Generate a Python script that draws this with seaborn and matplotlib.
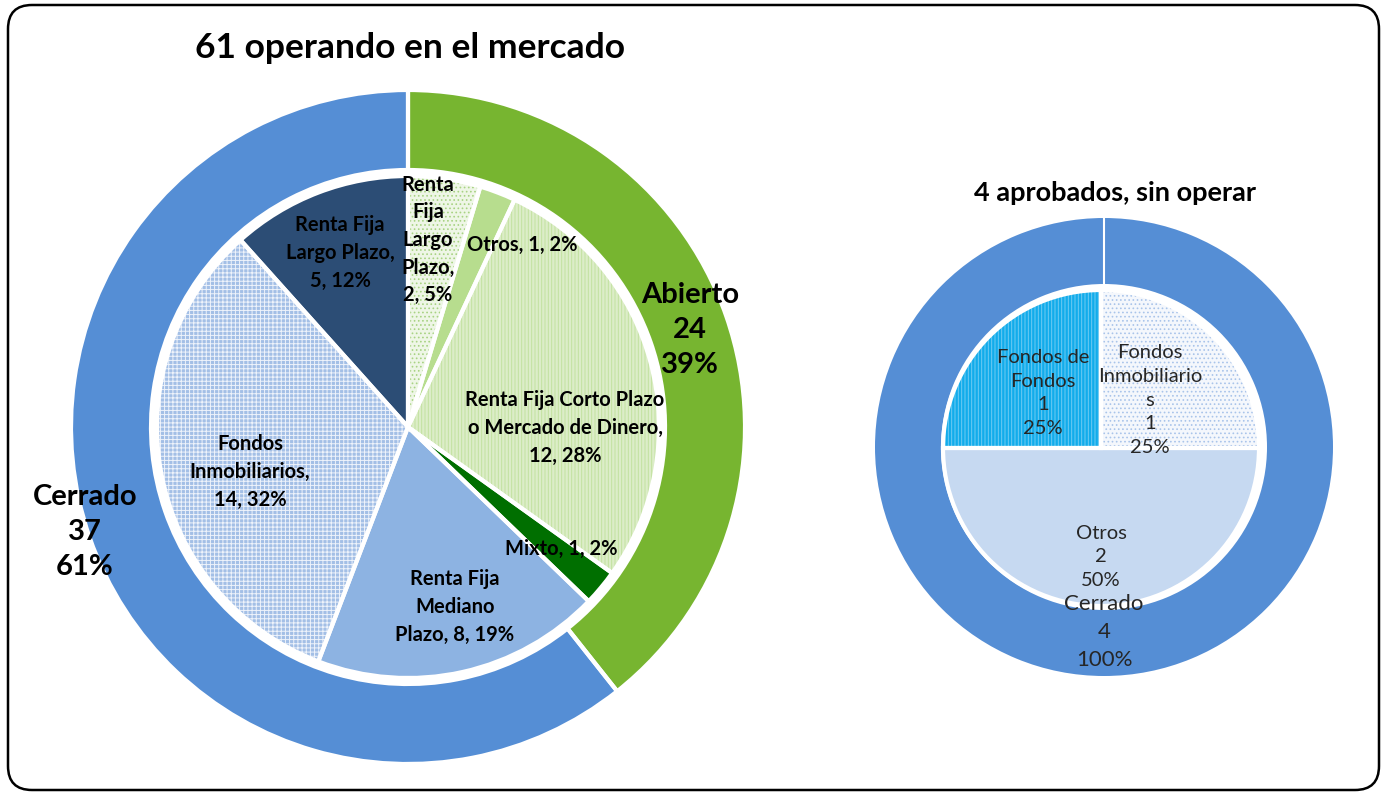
import numpy as np
import matplotlib.pyplot as plt
import seaborn as sns
from matplotlib.patches import FancyBboxPatch

sns.set_theme(style="white")
plt.rcParams['font.family'] = ['Lato', 'DejaVu Sans']
plt.rcParams['text.color'] = 'black'
plt.rcParams['hatch.linewidth'] = 0.7

# --- data: 61 operando en el mercado ---
tipo_labels = ["Abierto", "Cerrado"]
tipo_values = [24, 37]
clase_labels = ["Renta Fija Largo Plazo", "Otros",
                "Renta Fija Corto Plazo o Mercado de Dinero", "Mixto",
                "Renta Fija Mediano Plazo", "Fondos Inmobiliarios",
                "Renta Fija Largo Plazo"]
clase_values = [2, 1, 12, 1, 8, 14, 5]
clase_pct = [5, 2, 28, 2, 19, 32, 12]

# --- data: 4 aprobados, sin operar ---
aprob_tipo_labels = ["Cerrado"]
aprob_tipo_values = [4]
aprob_clase_labels = ["Fondos Inmobiliarios", "Otros", "Fondos de Fondos"]
aprob_clase_values = [1, 2, 1]
aprob_clase_pct = [25, 50, 25]

# label wrapping as shown in the original
clase_wrapped = ["Renta\nFija\nLargo\nPlazo,\n", "Otros, ",
                 "Renta Fija Corto Plazo\no Mercado de Dinero,\n", "Mixto, ",
                 "Renta Fija\nMediano\nPlazo, ", "Fondos\nInmobiliarios,\n",
                 "Renta Fija\nLargo Plazo,\n"]
aprob_wrapped = ["Fondos\nInmobiliario\ns", "Otros", "Fondos de\nFondos"]

W, H = 1385, 793
fig = plt.figure(figsize=(W / 100, H / 100), dpi=100)
ax = fig.add_axes([0, 0, 1, 1])


def Y(y):
    return H - y


def hatched_pie(values, faces, hatches, hatch_cols, center, radius,
                width=None, lw=2.5, explode=None):
    wp = dict(linewidth=0)
    if width:
        wp['width'] = width
    wedges, _ = ax.pie(values, colors=faces, startangle=90, counterclock=False,
                       center=center, radius=radius, explode=explode,
                       wedgeprops=wp, frame=True)
    for w, h, hc in zip(wedges, hatches, hatch_cols):
        if h:
            w.set_hatch(h)
            w.set_edgecolor(hc)
    wp2 = dict(fill=False, edgecolor='white', linewidth=lw)
    if width:
        wp2['width'] = width
    ax.pie(values, startangle=90, counterclock=False, center=center,
           radius=radius, explode=explode, wedgeprops=wp2, frame=True)
    return wedges


# left chart
c_left = (408, Y(427))
hatched_pie(tipo_values, ['#77b530', '#558ed5'], [None, None], [None, None],
            c_left, 337, width=80, lw=3, explode=[0.015, 0])
hatched_pie(clase_values,
            ['#eef6e6', '#b7dd8e', '#dcedc8', '#006f00', '#8db3e2', '#a3bfe6', '#2c4d75'],
            ['....', None, '|||||', None, None, '++++', None],
            ['#a8d383', None, '#c2e19f', None, None, '#eef3fb', None],
            c_left, 251, lw=3)

# right chart
c_ring = (1104, Y(447))
hatched_pie(aprob_tipo_values, ['#558ed5'], [None], [None],
            c_ring, 229, width=66, lw=0)
ax.plot([c_ring[0], c_ring[0]], [c_ring[1] + 229 - 66, c_ring[1] + 229],
        color='white', lw=1.5)
hatched_pie(aprob_clase_values, ['#f4f7fc', '#c6d9f1', '#12aceb'],
            ['....', None, '|||||'], ['#a9c4ea', None, '#6fcbf3'],
            (1101, Y(448)), 158, lw=3)

# labels, left
clase_pos = [(428, 240), (522, 245), (565, 428), (561, 549),
             (455, 607), (250, 472), (340, 253)]
for name, v, p, (x, y) in zip(clase_wrapped, clase_values, clase_pct, clase_pos):
    ax.text(x, Y(y), f"{name}{v}, {p}%", ha='center', va='center',
            fontweight='bold', fontsize=14.5, linespacing=1.47)

tot = sum(tipo_values)
tipo_pos = [(690, 330), (85, 532)]
for lab, v, (x, y) in zip(tipo_labels, tipo_values, tipo_pos):
    ax.text(x, Y(y), f"{lab}\n{v}\n{round(100 * v / tot)}%", ha='center',
            va='center', fontweight='bold', fontsize=21, linespacing=1.43)

# labels, right
aprob_pos = [(1150, 400), (1101, 557), (1043, 393)]
for name, v, p, (x, y) in zip(aprob_wrapped, aprob_clase_values, aprob_clase_pct, aprob_pos):
    ax.text(x, Y(y), f"{name}\n{v}\n{p}%", ha='center', va='center',
            fontsize=14.5, color='#262626', linespacing=1.47)
ax.text(1104, Y(632), f"{aprob_tipo_labels[0]}\n{aprob_tipo_values[0]}\n100%",
        ha='center', va='center', fontsize=16, color='#262626', linespacing=1.48)

# titles
ax.text(410, Y(48), "61 operando en el mercado", ha='center', va='center',
        fontweight='bold', fontsize=25.5)
ax.text(1115, Y(193), "4 aprobados, sin operar", ha='center', va='center',
        fontweight='bold', fontsize=19.5)

# rounded frame
ax.add_patch(FancyBboxPatch((8, Y(790)), 1371, 785,
                            boxstyle="round,pad=0,rounding_size=24",
                            fill=False, ec='black', lw=1.8))

ax.set_xlim(0, W)
ax.set_ylim(0, H)
ax.set_aspect('equal')
ax.axis('off')
fig.savefig('out.png', dpi=100, facecolor='white')
